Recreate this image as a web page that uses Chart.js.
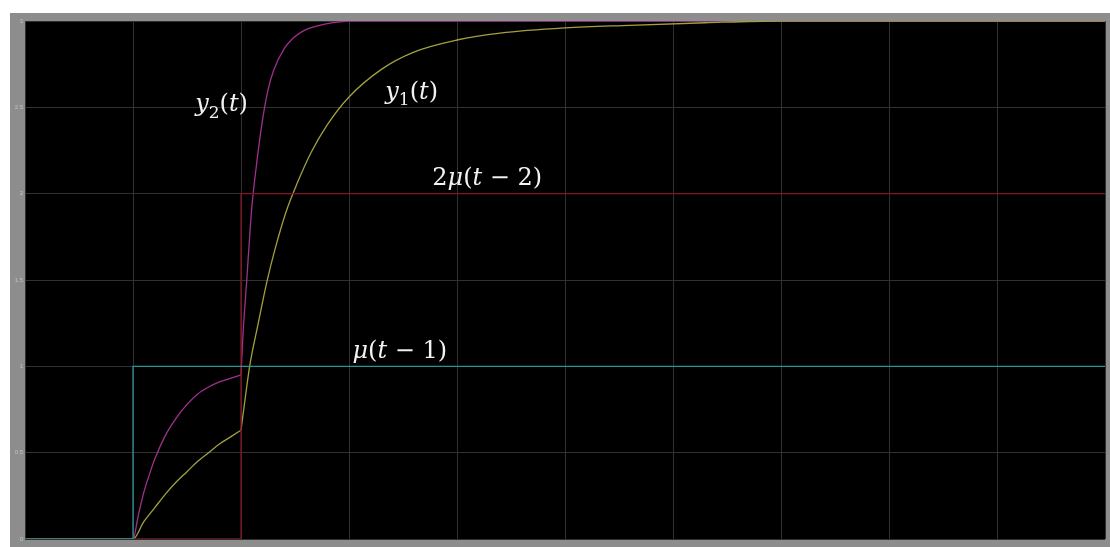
<!DOCTYPE html>
<html>
<head>
<meta charset="utf-8">
<script src="https://cdn.jsdelivr.net/npm/chart.js@4"></script>
<style>
  html, body { margin: 0; padding: 0; background: #fff; }
  #wrap { width: 1110px; height: 547px; }
</style>
</head>
<body>
<div id="wrap"><canvas id="plot" width="1110" height="547"></canvas></div>
<script>
// step inputs
const stepT1 = [0, 1, 1, 10];
const stepU1 = [0, 0, 1, 1];
const stepT2 = [0, 2, 2, 10];
const stepU2 = [0, 0, 2, 2];

// y2(t) response
const tY2 = [0, 1, 1.05, 1.1, 1.15, 1.2, 1.3, 1.4, 1.5, 1.6, 1.7, 1.8, 1.9, 2.0,
             2.02, 2.05, 2.08, 2.1, 2.15, 2.2, 2.25, 2.3, 2.4, 2.5, 2.6, 2.7, 2.85, 3.0, 10];
const y2Vals = [0, 0, 0.14, 0.27, 0.37, 0.46, 0.60, 0.70, 0.78, 0.84, 0.88, 0.91, 0.93, 0.95,
                1.2, 1.47, 1.75, 1.92, 2.2, 2.43, 2.6, 2.71, 2.84, 2.91, 2.95, 2.97, 2.99, 3.0, 3.0];

// y1(t) response
const tY1 = [0, 1, 1.1, 1.2, 1.3, 1.4, 1.5, 1.6, 1.7, 1.8, 1.9, 2.0,
             2.04, 2.08, 2.16, 2.24, 2.32, 2.42, 2.52, 2.65, 2.8, 3.0, 3.3, 3.6, 4.0, 4.4, 5.0, 5.6, 6.3, 7.0, 10];
const y1Vals = [0, 0, 0.10, 0.18, 0.26, 0.33, 0.39, 0.45, 0.50, 0.55, 0.59, 0.63,
                0.82, 1.0, 1.25, 1.49, 1.69, 1.90, 2.06, 2.24, 2.40, 2.56, 2.72, 2.82, 2.89, 2.93, 2.96, 2.975, 2.99, 3.0, 3.0];

// the second step arrives here, responses have a corner at this time
const tSwitch = 2;

const yTickLabels = ['0', '0.5', '1', '1.5', '2', '2.5', '3'];

// curve labels: runs of [text, style], i = italic, r = roman, s = subscript
const curveLabels = [
  { runs: [['y', 'i'], ['2', 's'], ['(', 'r'], ['t', 'i'], [')', 'r']], t: 1.82, v: 2.48 },
  { runs: [['y', 'i'], ['1', 's'], ['(', 'r'], ['t', 'i'], [')', 'r']], t: 3.58, v: 2.55 },
  { runs: [['2', 'r'], ['μ', 'i'], ['(', 'r'], ['t', 'i'], [' − 2', 'r'], [')', 'r']], t: 4.28, v: 2.05 },
  { runs: [['μ', 'i'], ['(', 'r'], ['t', 'i'], [' − 1', 'r'], [')', 'r']], t: 3.47, v: 1.05 }
];

function pts(xs, ys) {
  return xs.map((x, i) => ({ x: x, y: ys[i] }));
}

// split a response at the switch time so the smoothing keeps the corner
function splitAt(xs, ys, t0) {
  const all = pts(xs, ys);
  return [all.filter(p => p.x <= t0), all.filter(p => p.x >= t0)];
}

function runFont(style, size) {
  if (style === 'i') return 'italic ' + size + 'px "DejaVu Serif"';
  if (style === 's') return Math.round(size * 0.72) + 'px "DejaVu Serif"';
  return size + 'px "DejaVu Serif"';
}

function drawMath(ctx, runs, cx, baseY, size) {
  let total = 0;
  const widths = runs.map(r => {
    ctx.font = runFont(r[1], size);
    const w = ctx.measureText(r[0]).width;
    total += w;
    return w;
  });
  let x = cx - total / 2;
  runs.forEach((r, i) => {
    ctx.font = runFont(r[1], size);
    const dy = r[1] === 's' ? size * 0.28 : 0;
    ctx.fillText(r[0], x, baseY + dy);
    x += widths[i];
  });
}

// grey frame + black plotting area
const framePlugin = {
  id: 'frame',
  beforeDraw(chart) {
    const ctx = chart.ctx, a = chart.chartArea;
    ctx.save();
    ctx.fillStyle = '#fff';
    ctx.fillRect(0, 0, chart.width, chart.height);
    ctx.fillStyle = '#8d8d8d';
    ctx.fillRect(10, 13, chart.width - 10, chart.height - 13);
    ctx.fillStyle = '#000';
    ctx.fillRect(a.left, a.top, a.right - a.left, a.bottom - a.top);
    ctx.restore();
  }
};

const labelPlugin = {
  id: 'curveLabels',
  afterDatasetsDraw(chart) {
    const ctx = chart.ctx;
    const xs = chart.scales.x, ys = chart.scales.y;
    ctx.save();
    ctx.fillStyle = '#f2f2f2';
    ctx.textBaseline = 'alphabetic';
    ctx.textAlign = 'left';
    curveLabels.forEach(l => {
      drawMath(ctx, l.runs, xs.getPixelForValue(l.t), ys.getPixelForValue(l.v), 24);
    });
    ctx.restore();
  }
};

const line = (data, color, smooth) => ({
  data: data,
  borderColor: color,
  borderWidth: 1.3,
  pointRadius: 0,
  cubicInterpolationMode: smooth ? 'monotone' : 'default',
  tension: 0,
  fill: false
});

const y1Parts = splitAt(tY1, y1Vals, tSwitch);
const y2Parts = splitAt(tY2, y2Vals, tSwitch);

new Chart(document.getElementById('plot'), {
  type: 'line',
  data: {
    datasets: [
      line(pts(stepT1, stepU1), '#2a9595', false),
      line(pts(stepT2, stepU2), '#851424', false),
      line(y1Parts[0], '#a3a040', true),
      line(y1Parts[1], '#a3a040', true),
      line(y2Parts[0], '#a0308e', true),
      line(y2Parts[1], '#a0308e', true)
    ]
  },
  options: {
    responsive: false,
    animation: false,
    plugins: { legend: { display: false }, tooltip: { enabled: false } },
    layout: { padding: { left: 10, top: 21, right: 5, bottom: 0 } },
    scales: {
      x: {
        type: 'linear',
        min: 0,
        max: 10,
        ticks: { display: false, stepSize: 1 },
        grid: { color: '#313131', lineWidth: 1, drawTicks: false },
        border: { display: false },
        afterFit(scale) { scale.height = 8; }
      },
      y: {
        min: 0,
        max: 3,
        ticks: {
          stepSize: 0.5,
          padding: 2,
          color: 'rgba(235,235,235,0.55)',
          font: { size: 6 },
          callback: (v, i) => yTickLabels[i]
        },
        grid: { color: '#313131', lineWidth: 1, drawTicks: false },
        border: { display: false },
        afterFit(scale) { scale.width = 15; }
      }
    }
  },
  plugins: [framePlugin, labelPlugin]
});
</script>
</body>
</html>
